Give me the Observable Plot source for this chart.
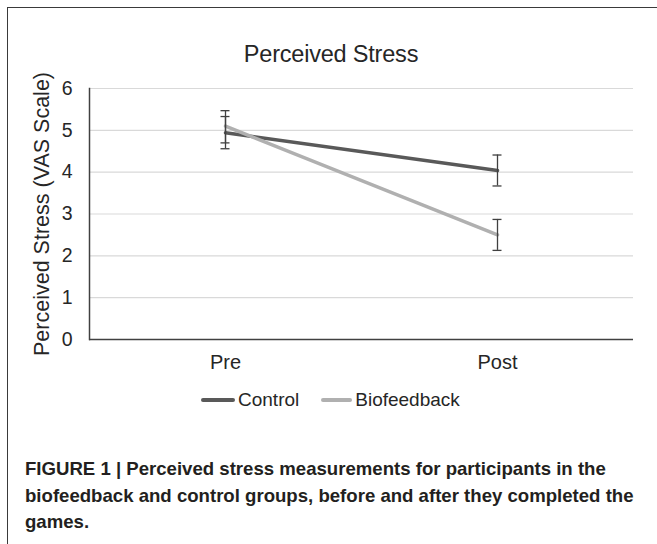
<!DOCTYPE html>
<html>
<head>
<meta charset="utf-8">
<script src="https://cdn.jsdelivr.net/npm/d3@7"></script>
<script src="https://cdn.jsdelivr.net/npm/@observablehq/plot@0.6"></script>
<style>
  html, body { margin: 0; padding: 0; background: #fff; overflow: hidden; }
  body { width: 657px; height: 544px; position: relative; font-family: "Liberation Sans", Arial, sans-serif; }
  #frame { position: absolute; left: 7px; top: 7px; width: 700px; height: 600px; border: 1.5px solid #3a3a3a; box-sizing: border-box; }
  #title { position: absolute; top: 41px; left: 331px; transform: translateX(-50%); font-size: 23.5px; color: #262626; white-space: nowrap; letter-spacing: -0.2px; }
  #chart { position: absolute; left: 0; top: 0; }
  #legend { position: absolute; left: 201px; top: 389px; display: flex; align-items: center; font-size: 19px; color: #262626; white-space: nowrap; }
  .sw { display: inline-block; height: 3.5px; border-radius: 2px; margin-right: 3px; }
  .item { display: flex; align-items: center; }
  #caption { position: absolute; left: 25px; top: 456px; font-size: 18.6px; font-weight: bold; line-height: 26.5px; color: #231f20; white-space: nowrap; }
</style>
</head>
<body>
<div id="frame"></div>
<div id="title">Perceived Stress</div>
<div id="chart"></div>
<div id="legend"></div>
<div id="caption">FIGURE 1 | Perceived stress measurements for participants in the<br>biofeedback and control groups, before and after they completed the<br>games.</div>
<script>
// ---- data ----
const categories = ["Pre", "Post"];
const groups = ["Control", "Biofeedback"];
const controlMean = [4.94, 4.04];
const controlLow = [4.56, 3.67];
const controlHigh = [5.47, 4.41];
const biofeedbackMean = [5.10, 2.50];
const biofeedbackLow = [4.70, 2.13];
const biofeedbackHigh = [5.33, 2.87];
const yTicks = [0, 1, 2, 3, 4, 5, 6];
const groupColors = ["#595959", "#b0b0b0"];

const table = [];
categories.forEach((c, i) => table.push({group: "Control", phase: c, value: controlMean[i], low: controlLow[i], high: controlHigh[i]}));
categories.forEach((c, i) => table.push({group: "Biofeedback", phase: c, value: biofeedbackMean[i], low: biofeedbackLow[i], high: biofeedbackHigh[i]}));

const chart = Plot.plot({
  width: 657,
  height: 380,
  marginLeft: 89,
  marginRight: 24,
  marginTop: 88,
  marginBottom: 41,
  style: {fontFamily: "'Liberation Sans', Arial, sans-serif", color: "#262626", background: "transparent", overflow: "visible"},
  x: {type: "point", domain: categories, padding: 0.5},
  y: {domain: [0, 6]},
  color: {domain: groups, range: groupColors},
  marks: [
    Plot.gridY(yTicks.filter(d => d > 0), {stroke: "#d9d9d9", strokeOpacity: 1, strokeWidth: 1.2}),
    Plot.axisY(yTicks, {tickSize: 0, tickPadding: 17, fontSize: 19.5, label: "Perceived Stress (VAS Scale)", labelAnchor: "center", labelOffset: 56, labelArrow: "none"}),
    Plot.axisY({tickSize: 0, ticks: [], fontSize: 21.5, label: null}),
    Plot.axisX({tickSize: 0, tickPadding: 15, fontSize: 20, label: null}),
    Plot.frame({anchor: "left", stroke: "#404040", strokeWidth: 1.5}),
    Plot.ruleY([0], {stroke: "#404040", strokeWidth: 1.5}),
    Plot.line(table, {x: "phase", y: "value", z: "group", stroke: "group", strokeWidth: 3.5}),
    Plot.ruleX(table, {x: "phase", y1: "low", y2: "high", stroke: "#404040", strokeWidth: 1.3}),
    Plot.ruleY(table, {y: "low", x1: "phase", x2: "phase", insetLeft: -4.5, insetRight: -4.5, stroke: "#404040", strokeWidth: 1.3}),
    Plot.ruleY(table, {y: "high", x1: "phase", x2: "phase", insetLeft: -4.5, insetRight: -4.5, stroke: "#404040", strokeWidth: 1.3})
  ]
});
// enlarge the y-axis title only
chart.querySelectorAll("text").forEach(t => {
  if (t.textContent === "Perceived Stress (VAS Scale)") t.setAttribute("font-size", "21.5");
});
document.getElementById("chart").appendChild(chart);

// legend
const legend = document.getElementById("legend");
const swWidths = [34, 31];
groups.forEach((g, i) => {
  const item = document.createElement("div");
  item.className = "item";
  if (i > 0) item.style.marginLeft = "22px";
  const sw = document.createElement("span");
  sw.className = "sw";
  sw.style.width = swWidths[i] + "px";
  sw.style.background = groupColors[i];
  const t = document.createElement("span");
  t.textContent = g;
  item.appendChild(sw);
  item.appendChild(t);
  legend.appendChild(item);
});
</script>
</body>
</html>
